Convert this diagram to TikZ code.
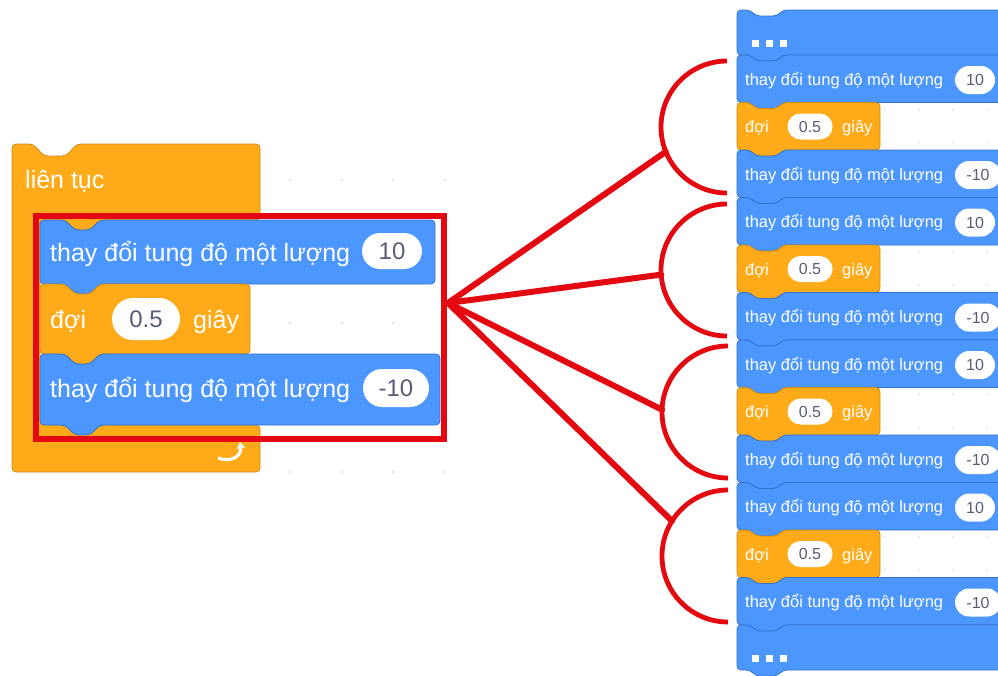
\documentclass[tikz,border=0pt]{standalone}
\usepackage{fontspec}
\setmainfont{Liberation Sans}
\usetikzlibrary{arrows.meta,shapes.misc}

\definecolor{motion}{HTML}{4C97FF}
\definecolor{motionline}{HTML}{3373CC}
\definecolor{control}{HTML}{FFAB19}
\definecolor{controlline}{HTML}{CF8B17}
\definecolor{valtext}{HTML}{575E75}
\definecolor{markred}{RGB}{228,8,16}

% 积木外形：左上角 (#1,#2)，宽 #3，高 #4；顶部凹口、底部凸起
\newcommand{\blockshape}[4]{%
  (#1,#2) -- ++(\notchx,0) -- ++(\notchd,\notchd) -- ++(\notchw,0) -- ++(\notchd,-\notchd)
  -- (#1+#3,#2) -- (#1+#3,#2+#4) -- (#1+\notchx+2*\notchd+\notchw,#2+#4)
  -- ++(-\notchd,\notchd) -- ++(-\notchw,0) -- ++(-\notchd,-\notchd) -- (#1,#2+#4) -- cycle}
\def\notchx{25}
\def\notchd{10}
\def\notchw{15}

\begin{document}
\begin{tikzpicture}[x=1pt, y=-1pt, >=Stealth,
    motionblk/.style={fill=motion, draw=motionline, line width=0.8, rounded corners=4},
    controlblk/.style={fill=control, draw=controlline, line width=0.8, rounded corners=4},
    btext/.style={text=white, inner sep=0, font=\fontsize{25}{29}\selectfont},
    lval/.style={rounded rectangle, fill=white, text=valtext, inner sep=0, font=\fontsize{24}{28}\selectfont},
    rtext/.style={text=white, inner sep=0, font=\fontsize{16.5}{20}\selectfont},
    rval/.style={rounded rectangle, fill=white, text=valtext, inner sep=0, font=\fontsize{16}{19}\selectfont},
    redline/.style={draw=markred, line width=6},
    redarc/.style={draw=markred, line width=4.8},
    dot/.style={fill=black!10}]
    \useasboundingbox (0,0) rectangle (998,675);
    \clip (0,0) rectangle (998,675);
    \fill[white] (0,0) rectangle (998,675);

    % 背景网格点
    \foreach \x in {290,342,393,445} {
        \foreach \y in {180,323,472} {
            \fill[dot] (\x,\y) circle (1.3);
        }
    }

    % “liên tục” 循环积木（C 形）
    \filldraw[controlblk] (12,144) -- (33,144) -- (44,156) -- (66,156) -- (77,144) -- (260,144)
        -- (260,220) -- (100,220) -- (90,230) -- (75,230) -- (65,220) -- (40,220)
        -- (40,425) -- (260,425) -- (260,472) -- (12,472) -- cycle;
    \node[btext, anchor=base west] (loop) at (25,188) {liên tục};
    % 循环图标
    \draw[white, line width=3.2, -{Stealth[length=7pt, width=9pt]}]
        (218,458) .. controls (232,463) and (242,456) .. (240,442);

    % 循环体内的三块积木
    \filldraw[motionblk] \blockshape{40}{220}{395}{64};
    \node[btext, anchor=base west] (mv1) at (50,261) {thay đổi tung độ một lượng};
    \node[lval, minimum width=60, minimum height=36] (v1) at (392,251) {10};

    \filldraw[controlblk] \blockshape{40}{284}{210}{70};
    \node[btext, anchor=base west] (wait) at (50,328) {đợi};
    \node[lval, minimum width=68, minimum height=42] (sec) at (146,319) {0.5};
    \node[btext, anchor=base west] (unit) at (193,328) {giây};

    \filldraw[motionblk] \blockshape{40}{354}{400}{71};
    \node[btext, anchor=base west] (mv2) at (50,397) {thay đổi tung độ một lượng};
    \node[lval, minimum width=66, minimum height=38] (v2) at (396,388) {-10};

    % 红色框
    \draw[markred, line width=6] (36,216) rectangle (444,439);
    \coordinate (hub) at (448,303);

    % 右侧四个括号
    \coordinate (c1) at (727,127);
    \coordinate (c2) at (727,270);
    \coordinate (c3) at (728,412);
    \coordinate (c4) at (728,556);
    \foreach \c in {c1,c2,c3,c4} {
        \draw[redarc] ([shift={(-90:66)}]\c) arc[start angle=-90, end angle=-270, radius=66];
    }
    \coordinate (e1) at ([shift={(158:66)}]c1);
    \coordinate (e2) at ([shift={(176:66)}]c2);
    \coordinate (e3) at ([shift={(182:66)}]c3);
    \coordinate (e4) at ([shift={(212:66)}]c4);
    \foreach \e in {e1,e2,e3,e4} {
        \draw[redline, line cap=round] (hub) -- (\e);
    }

    % 右侧展开后的积木序列
    \def\notchx{13}
    \def\notchd{6}
    \def\notchw{21}
    \filldraw[motionblk] \blockshape{737}{10}{280}{45};
    \foreach \x in {752,766,780} {
        \fill[white] (\x,40) rectangle ++(7,7);
    }
    \foreach \k in {0,...,11} {
        \pgfmathsetmacro{\rowtop}{55+47.5*\k}
        \pgfmathtruncatemacro{\m}{mod(\k,3)}
        \ifnum\m=1
            \foreach \x in {885,919,953,987} {
                \fill[dot] (\x,\rowtop+7) circle (1.1);
                \fill[dot] (\x,\rowtop+40) circle (1.1);
            }
            \filldraw[controlblk] \blockshape{737}{\rowtop}{143}{47.5};
            \node[rtext, anchor=base west] (w\k) at (745,\rowtop+30) {đợi};
            \node[rval, minimum width=45, minimum height=26] (s\k) at (810,\rowtop+24) {0.5};
            \node[rtext, anchor=base west] (u\k) at (842,\rowtop+30) {giây};
        \else
            \ifnum\m=0 \def\val{10}\def\vw{40}\def\vx{975}\else \def\val{-10}\def\vw{46}\def\vx{978}\fi
            \filldraw[motionblk] \blockshape{737}{\rowtop}{280}{47.5};
            \node[rtext, anchor=base west] (m\k) at (745,\rowtop+30) {thay đổi tung độ một lượng};
            \node[rval, minimum width=\vw, minimum height=28] (n\k) at (\vx,\rowtop+25) {\val};
        \fi
    }
    \filldraw[motionblk] \blockshape{737}{625}{280}{45};
    \foreach \x in {752,766,780} {
        \fill[white] (\x,655) rectangle ++(7,7);
    }
\end{tikzpicture}
\end{document}
